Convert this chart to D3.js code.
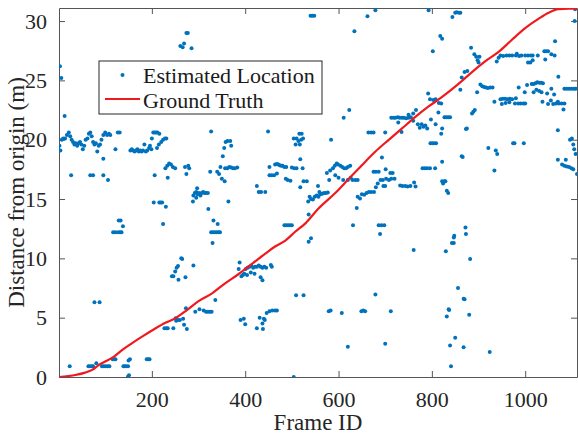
<!DOCTYPE html>
<html>
<head>
<meta charset="utf-8">
<script src="https://cdnjs.cloudflare.com/ajax/libs/d3/7.8.5/d3.min.js"></script>
<style>
  body { margin: 0; background: #fff; }
  svg text { font-family: "Liberation Serif", "Times New Roman", serif; }
</style>
</head>
<body>
<svg id="chart" width="578" height="435"></svg>
<script>
// estimated location per frame: [frame, distance]
var estimated = [
  [3,26.2],[6,25.2],[13,22.0],
  [2,19.5],[4,19.1],[7,20.0],[10,20.1],[14,20.1],[18,20.4],[22,20.6],[25,20.3],[28,20.0],[31,19.8],[34,19.6],
  [37,19.7],[40,19.5],[43,19.7],[46,19.8],[49,19.6],[52,19.2],[55,19.5],[58,20.0],[62,20.1],[65,20.5],[68,20.6],
  [71,20.3],[74,19.8],[77,19.6],[80,19.7],[83,19.0],[86,19.5],[89,19.6],[92,20.0],[96,20.4],[100,20.6],[104,20.4],
  [108,20.5],[111,20.4],[122,19.2],[127,20.6],[131,20.6],
  [27,17.0],[68,17.0],[74,17.0],[96,17.0],[106,16.6],[96,18.4],[129,13.2],
  [24,0.9],[64,0.9],[67,0.9],[71,0.9],[74,0.9],[81,1.15],[93,0.9],[97,0.9],[101,0.9],[105,0.9],[109,0.9],
  [116,1.5],[119,1.5],[122,1.5],[139,0.9],[142,0.9],[145,0.9],[149,0.9],[150,1.4],[153,1.5],[149,0.05],[151,0.15],
  [189,1.5],[192,1.5],[195,1.5],[77,6.3],[88,6.3],
  [117,12.2],[122,12.2],[128,12.2],[132,12.2],[135,12.2],[133,13.2],[138,12.7],
  [154,19.1],[157,19.2],[160,19.1],[163,19.0],[166,19.1],[169,19.2],[172,19.0],[175,19.1],[178,19.0],[181,19.1],
  [184,19.6],[187,19.0],[190,19.1],[194,19.3],
  [196,19.5],[199,19.2],[200,20.1],[203,20.6],[206,20.6],[209,20.6],[212,20.6],[216,20.5],[211,19.3],[215,19.6],
  [220,19.8],[224,20.0],[228,20.1],[231,20.1],
  [206,17.0],[234,16.8],[229,17.6],[233,17.8],[237,18.0],[241,17.9],[245,17.7],[250,17.6],[278,17.8],[280,17.6],
  [271,17.7],[274,17.1],
  [204,14.7],[216,14.7],[219,14.7],[222,14.7],[230,14.35],[224,12.9],
  [243,8.5],[246,8.5],[250,8.9],[253,9.2],[256,9.35],[257,8.2],[263,10.0],[265,9.95],[272,8.4],[289,9.4],
  [252,4.75],[256,4.8],[260,4.8],[267,4.9],[269,4.4],[275,4.05],[227,4.1],[231,4.1],[234,4.1],[246,4.1],[273,5.8],[251,4.95],
  [261,27.9],[266,27.8],[269,28.1],[274,29.0],[277,29.0],[285,27.7],
  [288,14.8],[289,15.3],[292,15.5],[295,15.6],[297,15.9],[298,15.4],[301,15.5],[304,15.3],[307,15.5],[310,15.6],
  [313,15.5],[316,15.5],[320,15.5],[295,15.1],
  [321,14.15],[332,13.2],[341,12.9],[327,12.2],[331,12.2],[335,12.2],[339,12.2],[343,12.2],[346,12.2],[330,11.3],[364,14.8],
  [325,17.3],[327,20.7],[340,17.3],[344,17.1],[347,17.7],[350,16.7],[357,17.6],[362,17.6],[366,17.7],[370,17.65],
  [374,17.6],[378,17.6],[383,17.65],[352,18.6],[355,19.3],[358,19.8],[362,19.9],[368,19.9],[370,19.5],[356,16.5],
  [336,6.5],[293,5.5],[302,5.7],[311,5.6],[316,5.5],[320,5.5],[324,5.5],[328,5.5],
  [388,9.65],[386,9.1],[392,8.5],[395,8.6],[398,8.7],[401,9.1],[405,9.2],[409,9.3],[413,9.4],[417,9.2],[421,9.3],
  [425,9.3],[429,9.4],[433,9.3],[437,9.2],[441,9.3],[445,9.2],[404,8.6],[412,8.8],[420,8.7],[433,8.4],[437,8.15],
  [455,9.45],[457,9.3],
  [390,4.8],[397,4.9],[400,4.45],[425,4.1],[431,5.0],[437,4.5],[440,4.9],[442,4.8],[438,4.05],[446,5.4],[452,5.55],
  [458,5.6],[464,5.6],[468,5.6],
  [509,6.9],[525,6.9],[504,0.0],
  [484,12.8],[488,12.8],[492,12.8],[496,12.8],[500,12.8],[536,11.4],[541,11.7],[536,13.7],
  [425,16.1],[429,15.6],[434,15.6],[443,15.6],
  [449,20.7],[452,17.7],[452,17.0],[457,17.0],[462,17.0],[464,17.9],[468,17.95],[471,17.9],[474,17.85],[477,17.8],
  [480,17.8],[484,17.7],[488,17.7],[500,17.65],[505,17.6],[510,17.6],[468,17.15],[487,16.7],[491,16.6],[497,16.55],
  [518,18.35],[523,17.6],
  [504,20.1],[508,19.6],[510,20.1],[514,19.9],[517,19.6],[520,20.0],[524,20.1],[516,20.5],[521,20.5],
  [525,16.5],[532,16.5],[518,16.0],[556,16.1],[559,15.6],
  [540,30.45],[544,30.45],[548,30.45],[634,29.15],[662,30.4],[679,30.9],[793,30.9],[802,27.45],[818,28.75],[822,28.5],
  [535,14.8],[538,15.2],[541,15.0],[545,14.95],[549,15.2],[553,15.3],[557,15.2],[561,15.4],[565,15.45],[569,15.5],
  [573,15.5],[577,15.55],
  [575,17.2],[580,16.6],[582,17.4],[588,17.6],[592,17.8],[596,18.0],[599,17.9],[604,17.8],[608,17.7],[612,17.6],
  [616,17.6],[620,17.7],[625,17.8],[593,17.0],[600,16.8],[610,16.6],[620,16.6],[626,16.8],[630,16.6],[636,16.6],[641,16.6],
  [584,20.0],[611,21.85],[623,22.5],
  [639,14.25],[641,15.2],[646,15.05],[650,15.4],[655,15.35],[660,15.5],[665,15.6],[670,15.6],[676,15.6],[680,16.0],[684,16.3],
  [631,12.8],[686,12.8],[692,12.8],[698,12.8],[689,12.05],
  [664,20.6],[670,20.6],[675,20.6],[700,20.6],[693,18.5],[675,17.3],[680,17.3],[686,17.3],[701,17.5],[711,17.2],
  [716,17.2],[690,16.6],[695,16.6],[702,16.7],[708,16.6],[713,16.7],[720,16.7],[696,16.1],[700,16.1],[732,16.15],
  [737,16.1],[743,16.1],[748,16.05],[754,16.1],[762,16.4],[765,16.05],
  [713,21.85],[718,21.85],[722,21.85],[727,21.9],[731,21.85],[736,21.85],[740,21.85],[745,21.8],[750,21.85],[755,21.9],
  [728,21.45],[735,20.65],[750,22.1],[760,22.2],[766,22.5],[760,21.6],
  [770,21.3],[774,21.0],[778,21.3],[782,21.1],[786,21.2],[790,20.95],[798,21.7],[808,21.3],[820,20.5],[822,20.95],
  [797,19.7],[801,19.7],[805,19.7],[809,19.7],[822,18.15],
  [792,23.9],[796,23.4],[803,23.35],[808,23.4],[815,23.1],[820,23.05],[814,22.3],
  [827,21.9],[831,21.9],[835,21.9],[839,21.9],
  [780,17.6],[785,17.6],[790,17.6],[796,17.6],[807,17.6],
  [822,16.5],[827,16.5],[824,16.3],[832,15.7],[829,16.5],[835,15.5],
  [579,5.55],[583,5.6],[607,5.4],[649,5.55],[653,5.6],[657,5.55],[712,5.55],[620,2.55],[700,2.8],[679,6.95],
  [761,10.7],[830,10.6],
  [836,5.7],[832,5.1],[837,5.65],[880,5.25],[850,3.3],[839,2.65],[868,2.5],[924,2.1],[841,0.9],[856,7.5],
  [868,6.6],[870,6.55],[882,9.95],[843,11.3],[847,11.3],[847,11.75],[848,11.9],[872,12.6],[873,12.05],
  [844,30.35],[850,30.7],[853,30.75],[858,30.7],[861,30.7],[884,27.75],[891,27.2],[895,27.0],[898,26.7],[902,27.0],
  [900,26.5],[939,26.6],[943,26.9],
  [947,27.1],[953,27.05],[960,27.1],[966,27.1],[972,27.1],[980,27.1],[982,27.25],[987,27.05],[992,27.1],[1000,27.1],
  [1006,27.1],[1012,27.1],[1016,27.1],[1006,26.5],[1011,26.5],[1016,26.7],[1027,27.1],[1041,27.45],[1045,27.45],
  [1049,27.45],[1043,26.75],[1056,27.2],[1063,27.1],[1064,28.3],[1106,30.0],[1107,31.0],
  [1071,25.3],[1084,24.3],[1089,24.3],[1094,24.3],[1099,24.3],[1104,24.3],[1108,24.3],
  [904,24.65],[908,24.5],[912,24.45],[916,24.4],[920,24.35],[925,24.4],[930,24.4],[897,24.0],[986,24.4],[999,24.0],[1004,24.6],
  [1014,24.7],[1018,24.7],[1022,24.75],[1026,24.85],[1030,24.8],[1034,24.8],[1038,24.75],[1018,24.0],[1024,24.2],
  [1030,24.1],[1035,24.0],[1047,23.9],[1056,24.3],[1062,23.8],[1070,23.2],
  [947,23.4],[952,23.45],[957,23.45],[962,23.4],[967,23.45],[972,23.4],[934,23.2],[950,23.0],[958,23.1],[966,23.15],
  [978,23.05],[985,23.05],[990,23.05],[996,23.05],[1000,23.05],[980,23.5],
  [1037,23.2],[1049,23.0],[1055,23.3],[1060,23.0],[1066,23.05],[1072,23.05],[1078,23.05],[1084,23.05],[1082,22.55],
  [886,22.2],[889,22.35],[892,22.5],[873,20.9],[875,20.95],
  [861,24.2],[864,25.25],[870,25.7],[876,25.8],[866,18.55],[864,18.6],
  [974,19.7],[977,19.7],[997,19.7],[921,19.3],[937,19.1],[940,18.8],[934,17.4],
  [1070,20.8],[1096,20.0],[1100,20.1],[1103,19.6],[1105,19.2],[1108,18.8],
  [1070,18.3],[1087,18.3],[1079,17.9],[1084,17.8],[1089,17.75],[1094,17.7],[1099,17.6],[1103,17.5],[1111,17.1]
];

// ground truth path
var truthFrame = [1, 36, 57, 72, 86, 100, 118, 136, 157, 179, 202, 229, 250, 275, 300, 329, 357, 386, 414, 443,
  464, 486, 507, 529, 557, 593, 622, 650, 679, 707, 736, 764, 793, 822, 857, 886, 914, 943, 971, 1000, 1029,
  1050, 1071, 1093, 1111];
var truthDist = [0, 0.17, 0.37, 0.6, 1.0, 1.3, 1.7, 2.27, 2.84, 3.4, 3.96, 4.57, 4.94, 5.64, 6.4, 7.05, 7.9, 8.68,
  9.52, 10.4, 11.0, 11.5, 12.24, 12.95, 14.2, 15.5, 16.7, 17.85, 19.0, 19.97, 20.95, 21.9, 22.8, 23.6, 24.7, 25.7,
  26.6, 27.4, 28.4, 29.4, 30.2, 30.7, 31.0, 31.05, 31.05];

var xTicks = [200, 400, 600, 800, 1000];
var yTicks = [0, 5, 10, 15, 20, 25, 30];
var legendLabels = ['Estimated Location', 'Ground Truth'];

(function () {
  var mLeft = 59, mRight = 577, mTop = 8, mBottom = 377;
  var blue = '#0072bd', red = '#f0191e', axisColor = '#555';

  var svg = d3.select('#chart');

  var x = d3.scaleLinear().domain([1, 1111]).range([mLeft, mRight]);
  var y = d3.scaleLinear().domain([0, 31.1]).range([mBottom, mTop]);

  svg.append('clipPath').attr('id', 'plotClip')
    .append('rect')
    .attr('x', mLeft).attr('y', mTop)
    .attr('width', mRight - mLeft).attr('height', mBottom - mTop);

  // axes, ticks pointing inward like matlab
  var xAxis = svg.append('g')
    .attr('transform', 'translate(0,' + mBottom + ')')
    .call(d3.axisBottom(x).tickValues(xTicks).tickFormat(d3.format('d'))
      .tickSizeInner(-6).tickSizeOuter(0).tickPadding(14));
  var xAxisTop = svg.append('g')
    .attr('transform', 'translate(0,' + mTop + ')')
    .call(d3.axisTop(x).tickValues(xTicks).tickSizeInner(-6).tickSizeOuter(0).tickFormat(''));
  var yAxis = svg.append('g')
    .attr('transform', 'translate(' + mLeft + ',0)')
    .call(d3.axisLeft(y).tickValues(yTicks).tickFormat(d3.format('d'))
      .tickSizeInner(-6).tickSizeOuter(0).tickPadding(12));
  var yAxisRight = svg.append('g')
    .attr('transform', 'translate(' + mRight + ',0)')
    .call(d3.axisRight(y).tickValues(yTicks).tickSizeInner(-6).tickSizeOuter(0).tickFormat(''));

  [xAxis, xAxisTop, yAxis, yAxisRight].forEach(function (g) {
    g.selectAll('path, line').attr('stroke', axisColor).attr('stroke-width', 1);
    g.selectAll('text')
      .attr('fill', '#262626')
      .style('font-size', '22px')
      .style('font-family', '"Liberation Serif", serif');
  });

  // scatter
  svg.append('g')
    .attr('clip-path', 'url(#plotClip)')
    .selectAll('circle')
    .data(estimated)
    .enter()
    .append('circle')
    .attr('cx', function (d) { return x(d[0]); })
    .attr('cy', function (d) { return y(d[1]); })
    .attr('r', 2)
    .style('fill', blue);

  // ground truth line on top
  var line = d3.line()
    .x(function (d, i) { return x(truthFrame[i]); })
    .y(function (d) { return y(d); })
    .curve(d3.curveMonotoneX);

  svg.append('path')
    .datum(truthDist)
    .attr('clip-path', 'url(#plotClip)')
    .attr('d', line)
    .attr('fill', 'none')
    .attr('stroke', red)
    .attr('stroke-width', 2.2);

  // axis labels
  svg.append('text')
    .attr('x', (mLeft + mRight) / 2)
    .attr('y', 430)
    .attr('text-anchor', 'middle')
    .attr('fill', '#262626')
    .style('font-size', '23px')
    .text('Frame ID');

  svg.append('text')
    .attr('transform', 'translate(24,' + (mTop + mBottom) / 2 + ') rotate(-90)')
    .attr('text-anchor', 'middle')
    .attr('fill', '#262626')
    .style('font-size', '23px')
    .text('Distance from origin (m)');

  // legend
  var legend = svg.append('g');
  legend.append('rect')
    .attr('x', 99).attr('y', 61)
    .attr('width', 223).attr('height', 53)
    .attr('fill', '#fff')
    .attr('stroke', '#262626')
    .attr('stroke-width', 1);
  legend.append('circle')
    .attr('cx', 122.5).attr('cy', 75)
    .attr('r', 2)
    .style('fill', blue);
  legend.append('line')
    .attr('x1', 105).attr('x2', 140)
    .attr('y1', 99).attr('y2', 99)
    .attr('stroke', red)
    .attr('stroke-width', 2.2);
  legend.selectAll('text.lbl')
    .data(legendLabels)
    .enter()
    .append('text')
    .attr('class', 'lbl')
    .attr('x', 143)
    .attr('y', function (d, i) { return 83 + i * 25; })
    .attr('fill', '#1a1a1a')
    .style('font-size', '22px')
    .text(function (d) { return d; });
})();
</script>
</body>
</html>
